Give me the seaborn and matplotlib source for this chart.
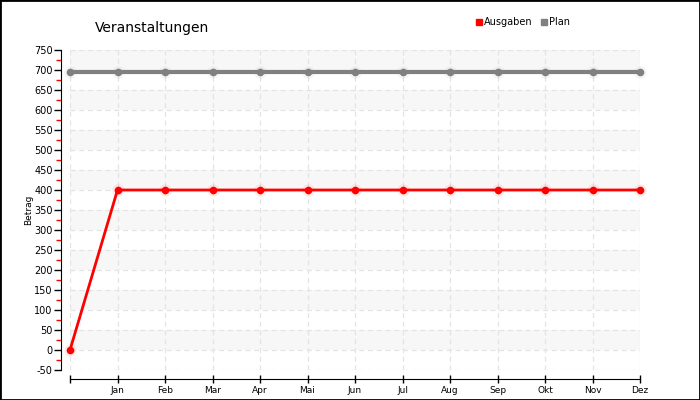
import pandas as pd
import numpy as np
import matplotlib.pyplot as plt
import matplotlib.patches as mpatches
from matplotlib.lines import Line2D
import seaborn as sns

# daten
monate = ['', 'Jan', 'Feb', 'Mar', 'Apr', 'Mai', 'Jun', 'Jul', 'Aug', 'Sep', 'Okt', 'Nov', 'Dez']
ausgaben = [0, 400, 400, 400, 400, 400, 400, 400, 400, 400, 400, 400, 400]
plan = [695, 695, 695, 695, 695, 695, 695, 695, 695, 695, 695, 695, 695]
y_ticks = list(range(-50, 751, 50))

df = pd.DataFrame({
    'pos': list(range(len(monate))) * 2,
    'Betrag': ausgaben + plan,
    'Serie': ['Ausgaben'] * len(monate) + ['Plan'] * len(monate),
})
farben = {'Ausgaben': '#ff0000', 'Plan': '#808080'}
breiten = {'Ausgaben': 2.0, 'Plan': 3.0}

sns.set_style('white')
plt.rcParams['font.family'] = ['DejaVu Sans']
plt.rcParams['text.color'] = 'black'
plt.rcParams['axes.labelcolor'] = 'black'
plt.rcParams['xtick.color'] = 'black'
plt.rcParams['ytick.color'] = 'black'

fig = plt.figure(figsize=(7, 4), dpi=100)
ax = fig.add_axes([70 / 700, 30 / 400, 570 / 700, 320 / 400])

# achsen zuerst verschieben (setzt ticks zurueck)
for s in ['top', 'right']:
    ax.spines[s].set_visible(False)
ax.spines['left'].set_position(('outward', 6.5))
ax.spines['bottom'].set_position(('outward', 6.5))

# graue streifen
for b in np.arange(0, 750, 100):
    ax.axhspan(b, b + 50, color='#f7f7f7', zorder=0, lw=0)

# halo hinter den punkten
for serie, col in farben.items():
    d = df[df['Serie'] == serie]
    ax.scatter(d['pos'], d['Betrag'], s=80, color=col, alpha=0.08, lw=0, zorder=2, clip_on=False)

for serie, col in farben.items():
    sns.lineplot(data=df[df['Serie'] == serie], x='pos', y='Betrag', color=col, ax=ax,
                 marker='o', markersize=5.5, markeredgewidth=0, linewidth=breiten[serie],
                 legend=False, zorder=3, clip_on=False)

ax.set_xlim(0, 12)
ax.set_ylim(-50, 750)
ax.spines['left'].set_bounds(-50, 750)
ax.spines['bottom'].set_bounds(0, 12)
ax.spines['left'].set_color('black')
ax.spines['bottom'].set_color('black')

ax.set_xticks(range(len(monate)))
ax.set_xticklabels(monate, fontsize=6.5)
ax.set_yticks(y_ticks)
ax.set_yticklabels([str(v) for v in y_ticks], fontsize=7)
ax.set_yticks(np.arange(-25, 750, 50), minor=True)
ax.set_xlabel('')
ax.set_ylabel('Betrag', fontsize=6.5, labelpad=1)

ax.grid(True, which='major', color='#e4e4e4', linestyle=(0, (4, 3)), linewidth=0.9, zorder=1)
ax.set_axisbelow(True)

ax.tick_params(axis='y', which='major', direction='out', length=5, width=1, color='black', pad=1, left=True)
ax.tick_params(axis='y', which='minor', direction='out', length=3.5, width=1, color='red', left=True)
ax.tick_params(axis='x', which='major', direction='inout', length=6, width=1, color='black', pad=2, bottom=True)

fig.text(95 / 700, 1 - 28 / 400, 'Veranstaltungen', fontsize=10, va='center', ha='left')

handles = [Line2D([], [], marker='s', linestyle='', color=farben[k], markersize=5, label=k) for k in farben]
fig.legend(handles=handles, loc='center', bbox_to_anchor=(522 / 700, 1 - 22 / 400), ncol=2,
           frameon=False, fontsize=7, handletextpad=0.05, columnspacing=0.6, handlelength=1)

fig.patches.append(mpatches.Rectangle((0, 0), 1, 1, transform=fig.transFigure, fill=False,
                                      edgecolor='black', linewidth=2))

plt.savefig('out.png', dpi=100)
